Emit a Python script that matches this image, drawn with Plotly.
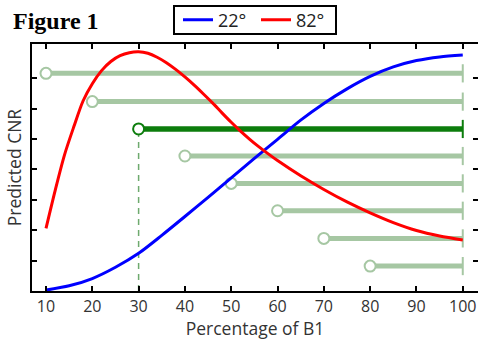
import plotly.graph_objects as go

# ---- data ----
pct_22 = [10, 15, 20, 25, 30, 35, 40, 45, 50, 55, 60, 65, 70, 75, 80, 85, 90, 95, 100]
cnr_22 = [0.03, 0.17, 0.41, 0.78, 1.24, 1.83, 2.45, 3.08, 3.72, 4.36, 4.99, 5.62, 6.17,
          6.65, 7.06, 7.37, 7.58, 7.70, 7.76]

pct_82 = [10, 12, 14, 16, 18, 20, 22, 24, 26, 28, 30, 32, 34, 36, 38, 40, 42, 44, 46,
          48, 50, 52, 54, 56, 58, 60, 65, 70, 75, 80, 85, 90, 95, 100]
cnr_82 = [2.06, 3.32, 4.48, 5.40, 6.25, 6.82, 7.25, 7.55, 7.74, 7.84, 7.87, 7.82, 7.69,
          7.51, 7.29, 7.04, 6.77, 6.48, 6.18, 5.86, 5.55, 5.26, 4.99, 4.74, 4.51, 4.29,
          3.79, 3.34, 2.93, 2.57, 2.25, 1.99, 1.81, 1.68]

bar_start = [10, 20, 30, 40, 50, 60, 70, 80]
bar_end = [100, 100, 100, 100, 100, 100, 100, 100]
bar_level = [7.16, 6.23, 5.33, 4.44, 3.54, 2.64, 1.73, 0.82]
highlight = 30

x_ticks = [10, 20, 30, 40, 50, 60, 70, 80, 90, 100]
y_ticks = [1, 2, 3, 4, 5, 6, 7]

LIGHT = "rgb(166,199,163)"
DARK = "rgb(12,125,12)"
DASH = "rgb(110,170,110)"

W, H = 478, 340
ML, MR, MT, MB = 32, 0, 44, 49
PW, PH = W - ML - MR, H - MT - MB


def px_x(p):
    return (p - ML) / PW


def px_y(p):
    return (H - MB - p) / PH


fig = go.Figure()

# green horizontal bars
for s, e, v in zip(bar_start, bar_end, bar_level):
    col = DARK if s == highlight else LIGHT
    fig.add_trace(go.Scatter(x=[s, e], y=[v, v], mode="lines",
                             line=dict(color=col, width=5 if s != highlight else 5.5),
                             showlegend=False, hoverinfo="skip"))
    fig.add_trace(go.Scatter(x=[e], y=[v], mode="markers",
                             marker=dict(symbol="line-ns", size=13,
                                         line=dict(color=col, width=2)),
                             showlegend=False, hoverinfo="skip"))
    if s == highlight:
        fig.add_trace(go.Scatter(x=[s, s], y=[0, v], mode="lines",
                                 line=dict(color=DASH, width=1.5, dash="6px,5px"),
                                 showlegend=False, hoverinfo="skip"))
    fig.add_trace(go.Scatter(x=[s], y=[v], mode="markers",
                             marker=dict(symbol="circle", size=11, color="white",
                                         line=dict(color=col, width=2)),
                             showlegend=False, hoverinfo="skip"))

fig.add_trace(go.Scatter(x=pct_22, y=cnr_22, mode="lines", name="22°",
                         line=dict(color="#0000ff", width=3, shape="spline", smoothing=0.8)))
fig.add_trace(go.Scatter(x=pct_82, y=cnr_82, mode="lines", name="82°",
                         line=dict(color="#ff0000", width=3, shape="spline", smoothing=0.8)))

# invisible trace for right-side ticks
fig.add_trace(go.Scatter(x=[50], y=[4], yaxis="y2", mode="markers",
                         marker=dict(opacity=0), showlegend=False, hoverinfo="skip"))

font_fam = "Open Sans, Arial, sans-serif"
YMAX = 8.125
fig.update_layout(
    width=W, height=H,
    margin=dict(l=ML, r=MR, t=MT, b=MB),
    paper_bgcolor="white", plot_bgcolor="white",
    font=dict(family=font_fam, color="#333333"),
    xaxis=dict(range=[6.977, 103.29], tickvals=x_ticks, ticks="inside", ticklen=5,
               tickwidth=1.5, tickcolor="black", showline=True, linewidth=2,
               linecolor="black", mirror="ticks", showgrid=False, zeroline=False,
               tickfont=dict(size=16, color="#333333"),
               title=dict(text="Percentage of B1", font=dict(size=17.5, color="#333333"),
                          standoff=2)),
    yaxis=dict(range=[0, YMAX], tickvals=y_ticks, ticks="inside", ticklen=5,
               tickwidth=1.5, tickcolor="black", showline=True, linewidth=2,
               linecolor="black", showgrid=False, zeroline=False, showticklabels=False,
               title=dict(text="Predicted CNR", font=dict(size=17.5, color="#333333"),
                          standoff=4)),
    yaxis2=dict(range=[0, YMAX], overlaying="y", side="right", tickvals=y_ticks,
                ticks="inside", ticklen=5, tickwidth=1.5, tickcolor="black",
                showline=False, showgrid=False, zeroline=False, showticklabels=False),
    legend=dict(orientation="h", x=px_x(178), y=px_y(20), xanchor="left", yanchor="middle",
                borderwidth=0, bgcolor="rgba(0,0,0,0)",
                font=dict(size=18, color="#222222"), itemwidth=30,
                entrywidth=33, entrywidthmode="pixels"),
    shapes=[dict(type="rect", xref="paper", yref="paper",
                 x0=px_x(174), x1=px_x(336), y0=px_y(34), y1=px_y(6),
                 line=dict(color="black", width=2), fillcolor="white", layer="below")],
    annotations=[
        dict(text="<b>Figure 1</b>", xref="paper", yref="paper",
             x=px_x(11), y=px_y(21.5), xanchor="left", yanchor="middle", showarrow=False,
             font=dict(family="Liberation Serif, serif", size=24, color="black")),
        dict(text="<b>Figure 2</b>", xref="paper", yref="paper",
             x=px_x(11), y=px_y(337), xanchor="left", yanchor="top", showarrow=False,
             font=dict(family="Liberation Serif, serif", size=24, color="black")),
    ],
)

fig.write_html("out.html",
               config={"displayModeBar": False},
               post_script="document.body.style.margin='0px';"
                           "document.body.style.overflow='hidden';"
                           "document.documentElement.style.overflow='hidden';")
